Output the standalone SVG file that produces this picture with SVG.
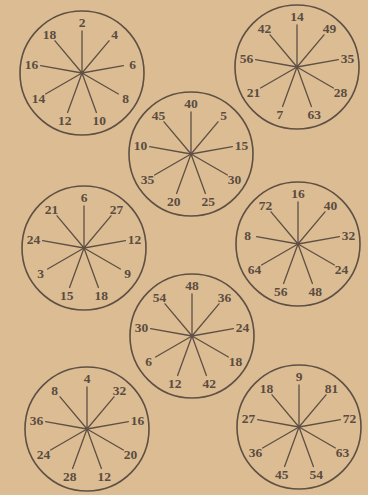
<svg xmlns="http://www.w3.org/2000/svg" xmlns:xlink="http://www.w3.org/1999/xlink" width="368" height="495" viewBox="0 0 368 495">
<style>
.rim{fill:none;stroke:#5e5044;stroke-width:1.6}
.sp line{stroke:#5e5044;stroke-width:1.3;stroke-linecap:round}
text{font-family:"Liberation Serif","DejaVu Serif",serif;font-weight:bold;font-size:13.5px;fill:#5a4c40;text-anchor:middle}
</style>
<defs>
<g id="spokes" class="sp">
<line x1="0" y1="0" x2="0" y2="-42"/>
<line x1="0" y1="0" x2="27" y2="-32.2"/>
<line x1="0" y1="0" x2="41.4" y2="-7.3"/>
<line x1="0" y1="0" x2="36.4" y2="21"/>
<line x1="0" y1="0" x2="14.4" y2="39.5"/>
<line x1="0" y1="0" x2="-14.4" y2="39.5"/>
<line x1="0" y1="0" x2="-36.4" y2="21"/>
<line x1="0" y1="0" x2="-41.4" y2="-7.3"/>
<line x1="0" y1="0" x2="-27" y2="-32.2"/>
<circle r="1.8" fill="#5e5044"/>
</g>
</defs>
<rect width="368" height="495" fill="#dcbc93"/>
<g id="dial1" transform="translate(82,73)">
<circle class="rim" r="62"/><use xlink:href="#spokes"/>
<text x="0" y="-46">2</text><text x="32.5" y="-34">4</text><text x="50.5" y="-4">6</text><text x="43.5" y="30">8</text><text x="17.2" y="52">10</text><text x="-17.2" y="52">12</text><text x="-43.5" y="30">14</text><text x="-50.5" y="-4">16</text><text x="-32.5" y="-34">18</text>
</g>
<g id="dial2" transform="translate(297,67)">
<circle class="rim" r="62"/><use xlink:href="#spokes"/>
<text x="0" y="-46">14</text><text x="32.5" y="-34">49</text><text x="50.5" y="-4">35</text><text x="43.5" y="30">28</text><text x="17.2" y="52">63</text><text x="-17.2" y="52">7</text><text x="-43.5" y="30">21</text><text x="-50.5" y="-4">56</text><text x="-32.5" y="-34">42</text>
</g>
<g id="dial3" transform="translate(191,154)">
<circle class="rim" r="62"/><use xlink:href="#spokes"/>
<text x="0" y="-46">40</text><text x="32.5" y="-34">5</text><text x="50.5" y="-4">15</text><text x="43.5" y="30">30</text><text x="17.2" y="52">25</text><text x="-17.2" y="52">20</text><text x="-43.5" y="30">35</text><text x="-50.5" y="-4">10</text><text x="-32.5" y="-34">45</text>
</g>
<g id="dial4" transform="translate(84,248)">
<circle class="rim" r="62"/><use xlink:href="#spokes"/>
<text x="0" y="-46">6</text><text x="32.5" y="-34">27</text><text x="50.5" y="-4">12</text><text x="43.5" y="30">9</text><text x="17.2" y="52">18</text><text x="-17.2" y="52">15</text><text x="-43.5" y="30">3</text><text x="-50.5" y="-4">24</text><text x="-32.5" y="-34">21</text>
</g>
<g id="dial5" transform="translate(298,244)">
<circle class="rim" r="62"/><use xlink:href="#spokes"/>
<text x="0" y="-46">16</text><text x="32.5" y="-34">40</text><text x="50.5" y="-4">32</text><text x="43.5" y="30">24</text><text x="17.2" y="52">48</text><text x="-17.2" y="52">56</text><text x="-43.5" y="30">64</text><text x="-50.5" y="-4">8</text><text x="-32.5" y="-34">72</text>
</g>
<g id="dial6" transform="translate(192,336)">
<circle class="rim" r="62"/><use xlink:href="#spokes"/>
<text x="0" y="-46">48</text><text x="32.5" y="-34">36</text><text x="50.5" y="-4">24</text><text x="43.5" y="30">18</text><text x="17.2" y="52">42</text><text x="-17.2" y="52">12</text><text x="-43.5" y="30">6</text><text x="-50.5" y="-4">30</text><text x="-32.5" y="-34">54</text>
</g>
<g id="dial7" transform="translate(87,429)">
<circle class="rim" r="62"/><use xlink:href="#spokes"/>
<text x="0" y="-46">4</text><text x="32.5" y="-34">32</text><text x="50.5" y="-4">16</text><text x="43.5" y="30">20</text><text x="17.2" y="52">12</text><text x="-17.2" y="52">28</text><text x="-43.5" y="30">24</text><text x="-50.5" y="-4">36</text><text x="-32.5" y="-34">8</text>
</g>
<g id="dial8" transform="translate(299,427)">
<circle class="rim" r="62"/><use xlink:href="#spokes"/>
<text x="0" y="-46">9</text><text x="32.5" y="-34">81</text><text x="50.5" y="-4">72</text><text x="43.5" y="30">63</text><text x="17.2" y="52">54</text><text x="-17.2" y="52">45</text><text x="-43.5" y="30">36</text><text x="-50.5" y="-4">27</text><text x="-32.5" y="-34">18</text>
</g>
</svg>
